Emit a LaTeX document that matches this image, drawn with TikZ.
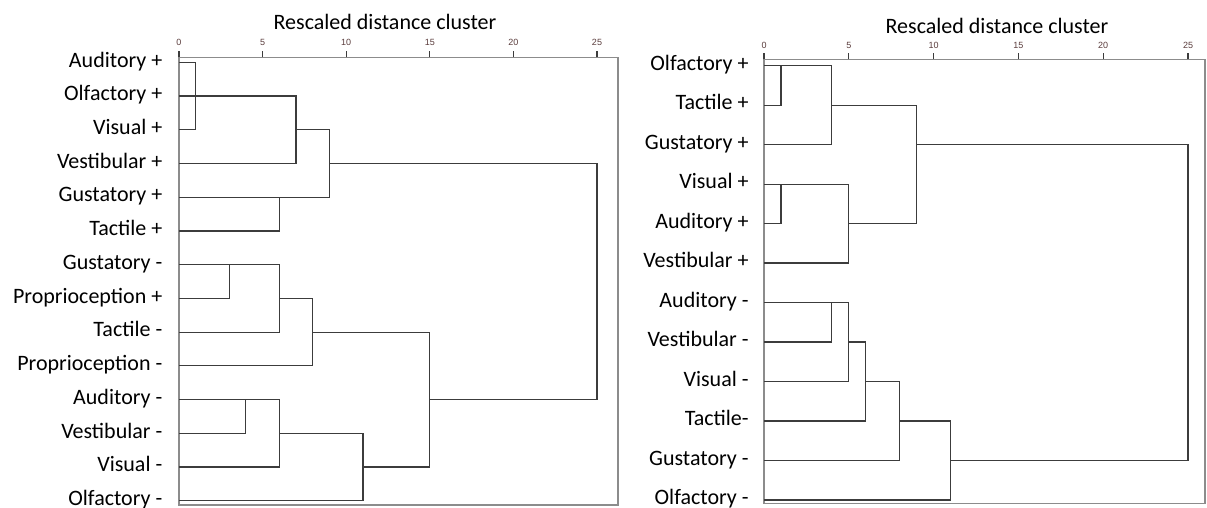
\documentclass[tikz,border=0pt]{standalone}
\usepackage{fontspec}
\setmainfont{Carlito}
\newfontfamily\tickfont{Liberation Sans}
\definecolor{tree}{HTML}{3C3C3C}
\definecolor{frame}{HTML}{8C8C8C}
\definecolor{tickink}{HTML}{5A3C3C}

\begin{document}
\begin{tikzpicture}[
  x=0.5pt, y=-0.5pt,
  leaf/.style={anchor=mid east, inner sep=0pt, font=\fontsize{11}{13}\selectfont},
  heading/.style={inner sep=0pt, font=\fontsize{11}{13}\selectfont},
  ticklbl/.style={inner sep=0pt, font=\tickfont\fontsize{4.5}{5}\selectfont, text=tickink},
  link/.style={draw=tree, line width=0.6pt},
  box/.style={draw=frame, line width=0.75pt},
  tickmark/.style={draw=tree, line width=0.6pt}
]
  \useasboundingbox (0,0) rectangle (1207,508);

  % Titles
  \node[heading] (titleL) at (385,22) {Rescaled distance cluster};
  \node[heading] (titleR) at (997,26) {Rescaled distance cluster};

  % ---------------- Left dendrogram ----------------
  \begin{scope}[shift={(179,62.3)}, x=8.36pt, y=-16.865pt]
    % frame with axis on top
    \draw[box] (0,-0.148) rectangle (26.26,13.125);
    \draw[tickmark] (0,-0.148) -- ++(0,-0.18);  \node[ticklbl] (l0) at (0,-0.6) {0};
    \draw[tickmark] (5,-0.148) -- ++(0,-0.18);  \node[ticklbl] (l5) at (5,-0.6) {5};
    \draw[tickmark] (10,-0.148) -- ++(0,-0.18); \node[ticklbl] (l10) at (10,-0.6) {10};
    \draw[tickmark] (15,-0.148) -- ++(0,-0.18); \node[ticklbl] (l15) at (15,-0.6) {15};
    \draw[tickmark] (20,-0.148) -- ++(0,-0.18); \node[ticklbl] (l20) at (20,-0.6) {20};
    \draw[tickmark] (25,-0.148) -- ++(0,-0.18); \node[ticklbl] (l25) at (25,-0.6) {25};

    % leaves
    \node[leaf] (audP)  at (-0.975,0)  {Auditory +};
    \node[leaf] (olfP)  at (-0.975,1)  {Olfactory +};
    \node[leaf] (visP)  at (-0.975,2)  {Visual +};
    \node[leaf] (vesP)  at (-0.975,3)  {Vestibular +};
    \node[leaf] (gusP)  at (-0.975,4)  {Gustatory +};
    \node[leaf] (tacP)  at (-0.975,5)  {Tactile +};
    \node[leaf] (gusM)  at (-0.975,6)  {Gustatory -};
    \node[leaf] (proP)  at (-0.975,7)  {Proprioception +};
    \node[leaf] (tacM)  at (-0.975,8)  {Tactile -};
    \node[leaf] (proM)  at (-0.975,9)  {Proprioception -};
    \node[leaf] (audM)  at (-0.975,10) {Auditory -};
    \node[leaf] (vesM)  at (-0.975,11) {Vestibular -};
    \node[leaf] (visM)  at (-0.975,12) {Visual -};
    \node[leaf] (olfM)  at (-0.975,13) {Olfactory -};

    % upper cluster
    \draw[link] (0,0) -- (1,0) -- (1,2) -- (0,2);
    \draw[link] (0,1) -- (7,1) -- (7,3) -- (0,3);
    \draw[link] (7,2) -- (9,2) -- (9,4) -- (0,4);
    \draw[link] (0,5) -- (6,5) -- (6,4);
    % lower cluster
    \draw[link] (0,6) -- (6,6) -- (6,8) -- (0,8);
    \draw[link] (0,7) -- (3,7) -- (3,6);
    \draw[link] (6,7) -- (8,7) -- (8,9) -- (0,9);
    \draw[link] (0,10) -- (6,10) -- (6,12) -- (0,12);
    \draw[link] (0,11) -- (4,11) -- (4,10);
    \draw[link] (6,11) -- (11,11) -- (11,13) -- (0,13);
    \draw[link] (8,8) -- (15,8) -- (15,12) -- (11,12);
    % root
    \draw[link] (9,3) -- (25,3) -- (25,10) -- (15,10);
  \end{scope}

  % ---------------- Right dendrogram ----------------
  \begin{scope}[shift={(764,65.7)}, x=8.48pt, y=-19.74pt]
    % frame with axis on top
    \draw[box] (0,-0.162) rectangle (26.0,11.09);
    \draw[tickmark] (0,-0.162) -- ++(0,-0.15);  \node[ticklbl] (r0) at (0,-0.524) {0};
    \draw[tickmark] (5,-0.162) -- ++(0,-0.15);  \node[ticklbl] (r5) at (5,-0.524) {5};
    \draw[tickmark] (10,-0.162) -- ++(0,-0.15); \node[ticklbl] (r10) at (10,-0.524) {10};
    \draw[tickmark] (15,-0.162) -- ++(0,-0.15); \node[ticklbl] (r15) at (15,-0.524) {15};
    \draw[tickmark] (20,-0.162) -- ++(0,-0.15); \node[ticklbl] (r20) at (20,-0.524) {20};
    \draw[tickmark] (25,-0.162) -- ++(0,-0.15); \node[ticklbl] (r25) at (25,-0.524) {25};

    % leaves
    \node[leaf] (olfP2) at (-0.885,0)  {Olfactory +};
    \node[leaf] (tacP2) at (-0.885,1)  {Tactile +};
    \node[leaf] (gusP2) at (-0.885,2)  {Gustatory +};
    \node[leaf] (visP2) at (-0.885,3)  {Visual +};
    \node[leaf] (audP2) at (-0.885,4)  {Auditory +};
    \node[leaf] (vesP2) at (-0.885,5)  {Vestibular +};
    \node[leaf] (audM2) at (-0.885,6)  {Auditory -};
    \node[leaf] (vesM2) at (-0.885,7)  {Vestibular -};
    \node[leaf] (visM2) at (-0.885,8)  {Visual -};
    \node[leaf] (tacM2) at (-0.885,9)  {Tactile-};
    \node[leaf] (gusM2) at (-0.885,10) {Gustatory -};
    \node[leaf] (olfM2) at (-0.885,11) {Olfactory -};

    % upper cluster
    \draw[link] (0,0) -- (4,0) -- (4,2) -- (0,2);
    \draw[link] (0,1) -- (1,1) -- (1,0);
    \draw[link] (4,1) -- (9,1) -- (9,4);
    \draw[link] (0,3) -- (5,3) -- (5,5) -- (0,5);
    \draw[link] (0,4) -- (1,4) -- (1,3);
    \draw[link] (5,4) -- (9,4);
    % lower cluster
    \draw[link] (0,6) -- (5,6) -- (5,8) -- (0,8);
    \draw[link] (0,7) -- (4,7) -- (4,6);
    \draw[link] (5,7) -- (6,7) -- (6,9) -- (0,9);
    \draw[link] (6,8) -- (8,8) -- (8,10) -- (0,10);
    \draw[link] (8,9) -- (11,9) -- (11,11) -- (0,11);
    % root
    \draw[link] (9,2) -- (25,2) -- (25,10) -- (11,10);
  \end{scope}
\end{tikzpicture}
\end{document}
